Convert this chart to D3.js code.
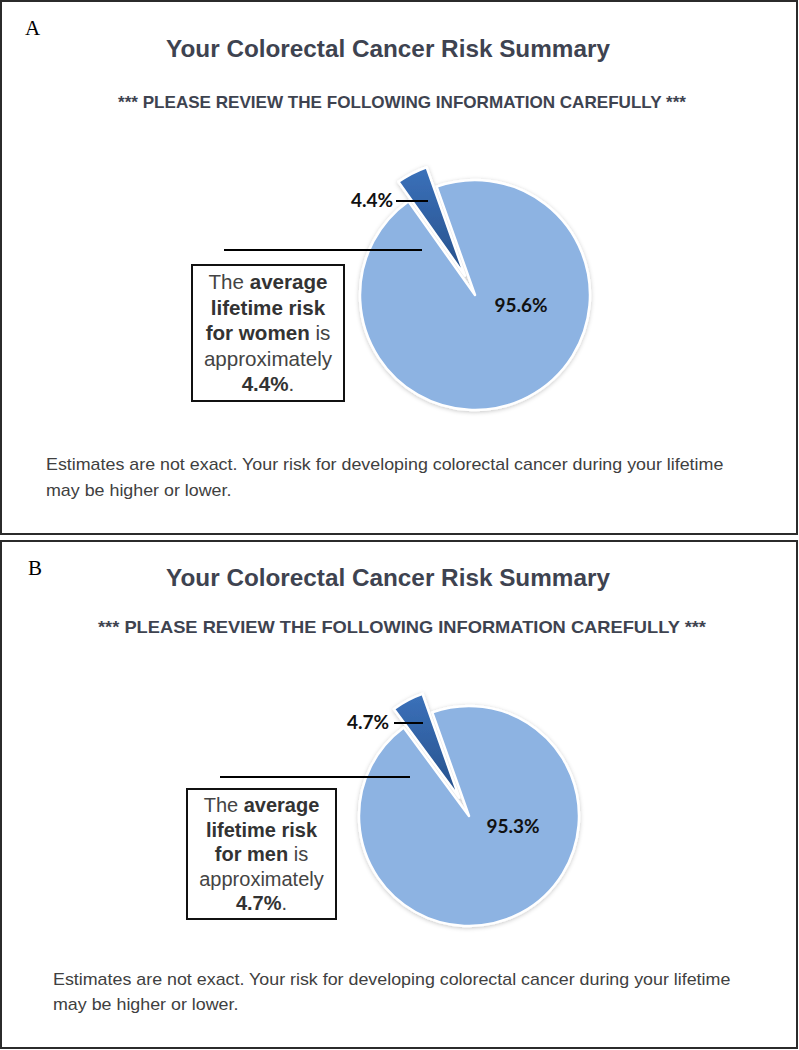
<!DOCTYPE html>
<html>
<head>
<meta charset="utf-8">
<script src="https://cdn.jsdelivr.net/npm/d3@7"></script>
<style>
  body { margin: 0; background: #fff; }
  svg { display: block; }
</style>
</head>
<body>
<div id="chart"></div>
<script>
// data
var panelIds = ["A", "B"];
var sexes = ["women", "men"];
var avgRisk = [4.4, 4.7];
var restRisk = [95.6, 95.3];
var riskLabels = ["4.4%", "4.7%"];
var restLabels = ["95.6%", "95.3%"];
var titleText = "Your Colorectal Cancer Risk Summary";
var subtitleText = "*** PLEASE REVIEW THE FOLLOWING INFORMATION CAREFULLY ***";
var footerLines = [
  "Estimates are not exact. Your risk for developing colorectal cancer during your lifetime",
  "may be higher or lower."
];

var svgWidth = 799;
var svgHeight = 1050;

// layout of each panel
var layouts = [
  { top: 1, h: 533, letterX: 25, letterY: 35, titleY: 57, subY: 108, subW: 568,
    cx: 475, cy: 295, r: 115, lineY: 250, lineX0: 224, lineX1: 422,
    lblX: 393, lblY: 207, leadX0: 396, leadX1: 428, leadY: 201,
    box: { x: 192, y: 265, w: 152, h: 136 }, boxY0: 289, boxStep: 25.5, boxFont: 20.6,
    footX: 46, footY: [470, 496] },
  { top: 541, h: 507, letterX: 28, letterY: 575, titleY: 586, subY: 633, subW: 608,
    cx: 469, cy: 816, r: 110, lineY: 777, lineX0: 220, lineX1: 410,
    lblX: 389, lblY: 729, leadX0: 394, leadX1: 423, leadY: 723,
    box: { x: 187, y: 789, w: 149, h: 130 }, boxY0: 812, boxStep: 24.5, boxFont: 20,
    footX: 53, footY: [985, 1010] }
];

var svg = d3.select("#chart")
  .append("svg")
  .attr("width", svgWidth)
  .attr("height", svgHeight);

var defs = svg.append("defs");

var grad = defs.append("linearGradient")
  .attr("id", "darkGrad")
  .attr("x1", 0).attr("y1", 0).attr("x2", 0).attr("y2", 1);
grad.append("stop").attr("offset", "0%").attr("stop-color", "#3b71ba");
grad.append("stop").attr("offset", "100%").attr("stop-color", "#26508a");

var shadow = defs.append("filter")
  .attr("id", "shadow")
  .attr("x", "-20%").attr("y", "-20%").attr("width", "140%").attr("height", "140%");
shadow.append("feDropShadow")
  .attr("dx", 0).attr("dy", 1)
  .attr("stdDeviation", 2)
  .attr("flood-color", "#000")
  .attr("flood-opacity", 0.22);

var textColor = "#404040";
var titleColor = "#3e4350";

// light slice starts just left of 12 o'clock, dark slice closes the circle
var startAngle = -19.5 * Math.PI / 180;

var pie = d3.pie()
  .sort(null)
  .value(d => d)
  .startAngle(startAngle)
  .endAngle(startAngle + 2 * Math.PI);

panelIds.forEach(function(id, i) {
  var L = layouts[i];
  var g = svg.append("g").attr("class", "panel");

  // frame
  g.append("rect")
    .attr("x", 1)
    .attr("y", L.top)
    .attr("width", 796)
    .attr("height", L.h)
    .attr("fill", "none")
    .attr("stroke", "#2b2b2b")
    .attr("stroke-width", 2);

  g.append("text")
    .attr("x", L.letterX)
    .attr("y", L.letterY)
    .style("font-family", "'Liberation Serif', 'Times New Roman', serif")
    .style("font-size", "21px")
    .attr("fill", "#000")
    .text(id);

  g.append("text")
    .attr("x", 388)
    .attr("y", L.titleY)
    .attr("text-anchor", "middle")
    .style("font-family", "'Liberation Sans', Arial, sans-serif")
    .style("font-weight", "bold")
    .style("font-size", "24.3px")
    .attr("fill", titleColor)
    .text(titleText);

  // subtitle is a little stretched in the original screenshot
  g.append("text")
    .attr("x", 402 - L.subW / 2)
    .attr("y", L.subY)
    .attr("textLength", L.subW)
    .attr("lengthAdjust", "spacingAndGlyphs")
    .style("font-family", "'Liberation Sans', Arial, sans-serif")
    .style("font-weight", "bold")
    .style("font-size", "17px")
    .attr("fill", titleColor)
    .text(subtitleText);

  // pie
  var arc = d3.arc().innerRadius(0).outerRadius(L.r);
  var arcs = pie([restRisk[i], avgRisk[i]]);
  var explode = 0.19 * L.r;

  var pieG = g.append("g")
    .attr("transform", `translate(${L.cx}, ${L.cy})`)
    .attr("filter", "url(#shadow)");

  pieG.selectAll("path")
    .data(arcs)
    .enter()
    .append("path")
    .attr("d", arc)
    .attr("transform", function(d, j) {
      if (j === 0) return null;
      var mid = (d.startAngle + d.endAngle) / 2;
      return `translate(${Math.sin(mid) * explode}, ${-Math.cos(mid) * explode})`;
    })
    .attr("fill", (d, j) => j === 0 ? "#8db3e2" : "url(#darkGrad)")
    .attr("stroke", "#fff")
    .attr("stroke-width", 2.5)
    .attr("stroke-linejoin", "round");

  g.append("text")
    .attr("x", L.cx + 0.4 * L.r)
    .attr("y", L.cy + 0.15 * L.r)
    .attr("text-anchor", "middle")
    .style("font-family", "Lato, 'Open Sans', sans-serif")
    .style("font-weight", "bold")
    .style("font-size", "19px")
    .attr("fill", "#111")
    .text(restLabels[i]);

  // small slice label + leader
  g.append("text")
    .attr("x", L.lblX)
    .attr("y", L.lblY)
    .attr("text-anchor", "end")
    .style("font-family", "Lato, 'Open Sans', sans-serif")
    .style("font-weight", "bold")
    .style("font-size", "19px")
    .attr("fill", "#111")
    .text(riskLabels[i]);

  g.append("line")
    .attr("x1", L.leadX0).attr("x2", L.leadX1)
    .attr("y1", L.leadY).attr("y2", L.leadY)
    .attr("stroke", "#000")
    .attr("stroke-width", 2);

  g.append("line")
    .attr("x1", L.lineX0).attr("x2", L.lineX1)
    .attr("y1", L.lineY).attr("y2", L.lineY)
    .attr("stroke", "#000")
    .attr("stroke-width", 2);

  // text box
  g.append("rect")
    .attr("x", L.box.x)
    .attr("y", L.box.y)
    .attr("width", L.box.w)
    .attr("height", L.box.h)
    .attr("fill", "#fff")
    .attr("stroke", "#111")
    .attr("stroke-width", 2);

  var boxLines = [
    [["The ", false], ["average", true]],
    [["lifetime risk", true]],
    [["for " + sexes[i], true], [" is", false]],
    [["approximately", false]],
    [[riskLabels[i], true], [".", false]]
  ];

  var boxText = g.append("text")
    .attr("text-anchor", "middle")
    .style("font-family", "'Liberation Sans', Arial, sans-serif")
    .style("font-size", L.boxFont + "px")
    .attr("fill", "#444");

  boxLines.forEach(function(parts, k) {
    var line = boxText.append("tspan")
      .attr("x", L.box.x + L.box.w / 2)
      .attr("y", L.boxY0 + k * L.boxStep);
    parts.forEach(function(p) {
      line.append("tspan")
        .style("font-weight", p[1] ? "bold" : "normal")
        .attr("fill", p[1] ? "#333" : "#444")
        .text(p[0]);
    });
  });

  // footer, slightly wide like the screenshot
  footerLines.forEach(function(t, k) {
    g.append("text")
      .attr("transform", `translate(${L.footX}, ${L.footY[k]}) scale(1.05, 1)`)
      .style("font-family", "'Liberation Sans', Arial, sans-serif")
      .style("font-size", "17px")
      .attr("fill", textColor)
      .text(t);
  });
});
</script>
</body>
</html>
